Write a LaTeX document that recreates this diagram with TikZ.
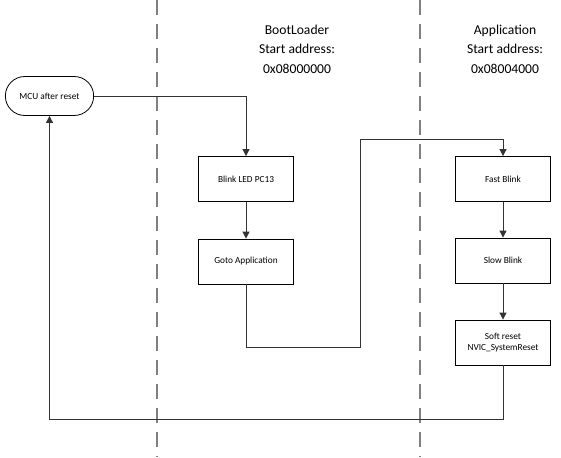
\documentclass[tikz,border=0pt]{standalone}
\usepackage{fontspec}
\setmainfont{Carlito}
\usetikzlibrary{arrows.meta, positioning, shapes.misc}

\begin{document}
\begin{tikzpicture}[x=1pt, y=-1pt, font=\fontsize{9.3}{11.5}\selectfont,
    box/.style={draw, rectangle, minimum width=95pt, minimum height=45pt, align=center, line width=0.8pt},
    terminal/.style={draw, rounded rectangle, minimum width=95pt, minimum height=39pt, line width=0.8pt},
    flow/.style={-{Triangle[length=7pt,width=7pt]}, line width=0.8pt, black!80},
    title/.style={font=\fontsize{13.6}{19.5}\selectfont, align=center}]
    \useasboundingbox (0,0) rectangle (561,457);

    % 分区虚线
    \foreach \x in {157,420} {
        \draw[gray, line width=1.2pt, dash pattern=on 15pt off 9pt] (\x,0) -- (\x,457);
    }

    % 标题
    \node[title] (tboot) at (297,49) {BootLoader\\Start address:\\0x08000000};
    \node[title] (tapp) at (505,49) {Application\\Start address:\\0x08004000};

    % 节点
    \node[terminal] (mcu) at (49.5,96) {MCU after reset};
    \node[box] (blink) at (246,179) {Blink LED PC13};
    \node[box] (gotoapp) at (246,261.5) {Goto Application};
    \node[box] (fast) at (503,179) {Fast Blink};
    \node[box] (slow) at (503,260.5) {Slow Blink};
    \node[box] (reset) at (503,342.5) {Soft reset\\NVIC\_SystemReset};

    % 拐点
    \coordinate (j1) at (360,347);
    \coordinate (j2) at (360,139);
    \coordinate (j3) at (49.5,419);

    % 连线
    \draw[flow] (mcu.east) -| (blink.north);
    \draw[flow] (blink) -- (gotoapp);
    \draw[flow] (gotoapp.south) |- (j1) -- (j2) -| (fast.north);
    \draw[flow] (fast) -- (slow);
    \draw[flow] (slow) -- (reset);
    \draw[flow] (reset.south) |- (j3) -- (mcu.south);
\end{tikzpicture}
\end{document}
